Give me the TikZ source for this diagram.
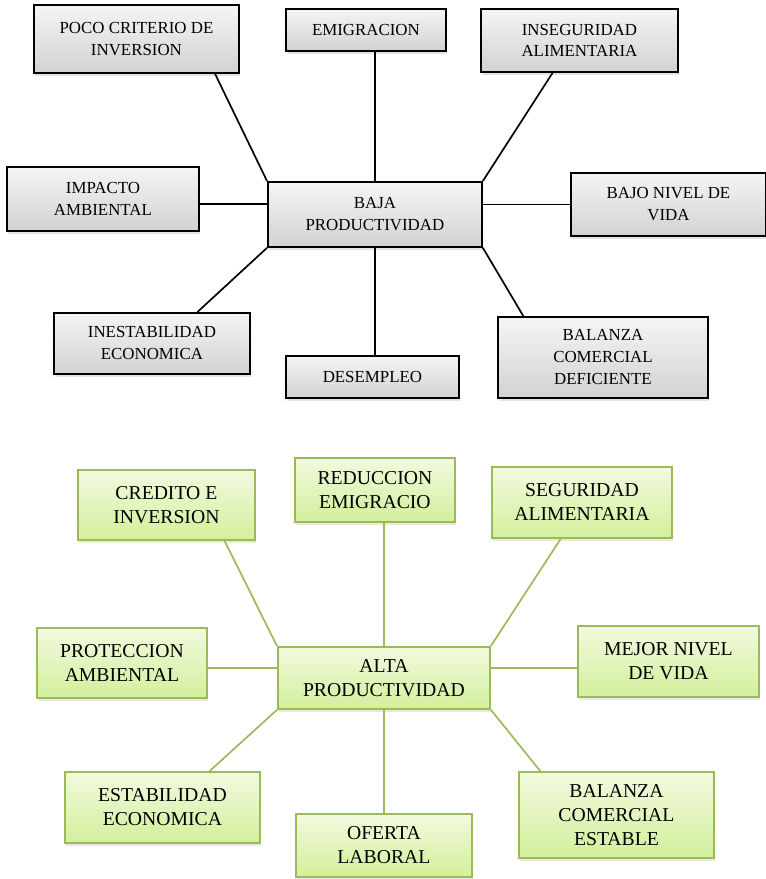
\documentclass[tikz,border=0pt]{standalone}
\usepackage{fontspec}
\setmainfont{Liberation Serif}
\usetikzlibrary{calc}
\usetikzlibrary{shadows}
\definecolor{olivegreen}{HTML}{9BBB59}
\definecolor{limetop}{HTML}{F2FADF}
\definecolor{limebottom}{HTML}{D3EF9C}

\begin{document}
\begin{tikzpicture}[x=0.025cm,y=-0.025cm,
    graybox/.style={draw=black,line width=1.3pt,top color=gray!8,bottom color=gray!35,
      drop shadow={shadow xshift=1pt,shadow yshift=-2.2pt,opacity=0.22},
      anchor=north west,align=center,inner sep=0pt,font=\fontsize{12}{15.6}\selectfont},
    greenbox/.style={draw=olivegreen,line width=1.3pt,top color=limetop,bottom color=limebottom,
      drop shadow={shadow xshift=1pt,shadow yshift=-2.2pt,opacity=0.18},
      anchor=north west,align=center,inner sep=0pt,font=\fontsize{14}{17}\selectfont},
    blackline/.style={line width=1.2pt},
    greenline/.style={olivegreen,line width=1.2pt}]
    \useasboundingbox (0,0) rectangle (766,879);

    % baja productividad
    \node[graybox,minimum width=5.125cm,minimum height=1.7cm] (poco) at (33,4) {POCO CRITERIO DE\\INVERSION};
    \node[graybox,minimum width=4cm,minimum height=1.05cm] (emig) at (285,8) {EMIGRACION};
    \node[graybox,minimum width=4.925cm,minimum height=1.575cm] (inseg) at (480,8) {INSEGURIDAD\\ALIMENTARIA};
    \node[graybox,minimum width=4.8cm,minimum height=1.6cm] (impacto) at (6,166) {IMPACTO\\AMBIENTAL};
    \node[graybox,minimum width=5.35cm,minimum height=1.625cm] (baja) at (267,181) {BAJA\\PRODUCTIVIDAD};
    \node[graybox,minimum width=4.875cm,minimum height=1.575cm] (bajo) at (570,172) {BAJO NIVEL DE\\VIDA};
    \node[graybox,minimum width=4.9cm,minimum height=1.525cm] (inest) at (53,312) {INESTABILIDAD\\ECONOMICA};
    \node[graybox,minimum width=4.325cm,minimum height=1.05cm] (desemp) at (285,355) {DESEMPLEO};
    \node[graybox,minimum width=5.25cm,minimum height=2.025cm] (deficit) at (497,316) {BALANZA\\COMERCIAL\\DEFICIENTE};

    \coordinate (impE) at ($(impacto.north east)!0.58!(impacto.south east)$);
    \draw[blackline] (baja.north west) -- ($(poco.south west)!0.88!(poco.south east)$);
    \draw[blackline] (baja.north) -- (baja.north |- emig.south);
    \draw[blackline] (baja.north east) -- ($(inseg.south west)!0.365!(inseg.south east)$);
    \draw[blackline] (impE) -- (impE -| baja.west);
    \draw[blackline] (bajo.west -| baja.east) -- (bajo.west);
    \draw[blackline] (baja.south west) -- ($(inest.north west)!0.73!(inest.north east)$);
    \draw[blackline] (baja.south) -- (baja.south |- desemp.north);
    \draw[blackline] (baja.south east) -- ($(deficit.north west)!0.124!(deficit.north east)$);

    % alta productividad
    \node[greenbox,minimum width=4.425cm,minimum height=1.75cm] (credito) at (77,469) {CREDITO E\\INVERSION};
    \node[greenbox,minimum width=4cm,minimum height=1.6cm] (reduc) at (294,457) {REDUCCION\\EMIGRACIO};
    \node[greenbox,minimum width=4.5cm,minimum height=1.775cm] (segur) at (491,466) {SEGURIDAD\\ALIMENTARIA};
    \node[greenbox,minimum width=4.25cm,minimum height=1.75cm] (protec) at (36,627) {PROTECCION\\AMBIENTAL};
    \node[greenbox,minimum width=5.3cm,minimum height=1.55cm] (alta) at (277,646) {ALTA\\PRODUCTIVIDAD};
    \node[greenbox,minimum width=4.525cm,minimum height=1.775cm] (mejor) at (577,625) {MEJOR NIVEL\\DE VIDA};
    \node[greenbox,minimum width=4.875cm,minimum height=1.775cm] (estab) at (64,771) {ESTABILIDAD\\ECONOMICA};
    \node[greenbox,minimum width=4.4cm,minimum height=1.575cm] (oferta) at (295,813) {OFERTA\\LABORAL};
    \node[greenbox,minimum width=4.875cm,minimum height=2.15cm] (estable) at (518,771) {BALANZA\\COMERCIAL\\ESTABLE};

    \coordinate (protE) at ($(protec.north east)!0.57!(protec.south east)$);
    \coordinate (mejW) at ($(mejor.north west)!0.59!(mejor.south west)$);
    \draw[greenline] (alta.north west) -- ($(credito.south west)!0.825!(credito.south east)$);
    \draw[greenline] (alta.north) -- (alta.north |- reduc.south);
    \draw[greenline] (alta.north east) -- ($(segur.south west)!0.383!(segur.south east)$);
    \draw[greenline] (protE) -- (protE -| alta.west);
    \draw[greenline] (mejW -| alta.east) -- (mejW);
    \draw[greenline] (alta.south west) -- ($(estab.north west)!0.74!(estab.north east)$);
    \draw[greenline] (alta.south) -- (alta.south |- oferta.north);
    \draw[greenline] (alta.south east) -- ($(estable.north west)!0.113!(estable.north east)$);
\end{tikzpicture}
\end{document}
